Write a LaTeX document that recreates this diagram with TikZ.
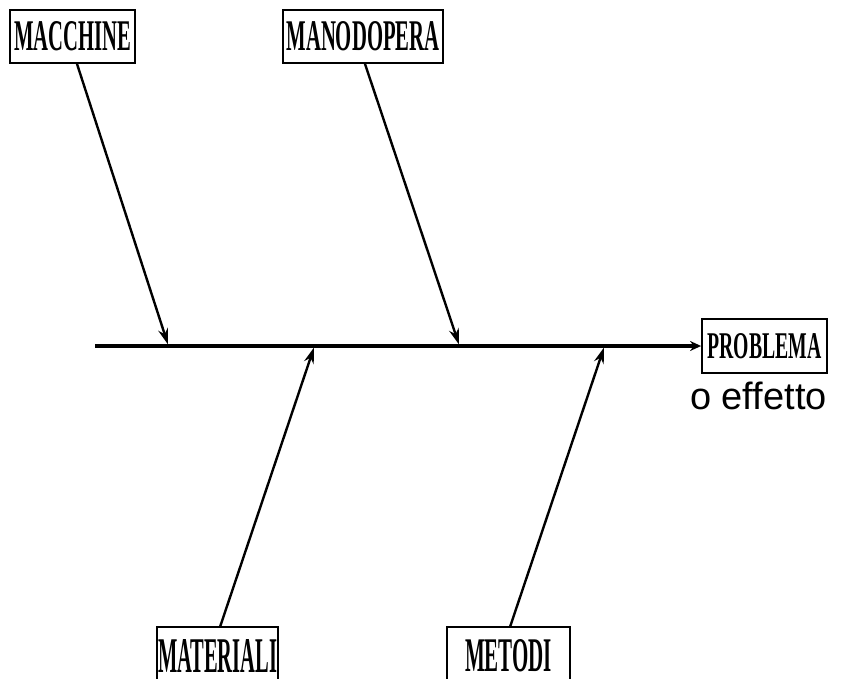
\documentclass[tikz,border=0pt]{standalone}
\usepackage{fontspec}
\setmainfont{Liberation Serif}
\newfontfamily\effsans{Liberation Sans}
\usetikzlibrary{arrows.meta}
\tikzset{
  box/.style={draw, line width=1.8pt, inner sep=0pt, anchor=center},
  frame/.style={line width=1.8pt},
  spine/.style={line width=3.2pt, -{Stealth[length=11pt,width=10pt]}},
  branch/.style={line width=2.4pt, -{Stealth[length=16pt,width=10pt]}},
}
\newcommand{\lbl}[3]{\resizebox{#1}{#2}{\fontsize{40}{40}\selectfont\bfseries #3}}
\begin{document}
\begin{tikzpicture}[x=1pt,y=-1pt]
\clip (0,0) rectangle (843,679);
\fill[white] (0,0) rectangle (843,679);
% boxes
\node[box, minimum width=125pt, minimum height=53pt] (mac) at (72.5,36.5) {\raisebox{-4pt}{\lbl{117pt}{29pt}{MACCHINE}}};
\node[box, minimum width=160pt, minimum height=53pt] (man) at (363,36.5) {\raisebox{-4pt}{\lbl{153pt}{29pt}{MANODOPERA}}};
\node[box, minimum width=125pt, minimum height=54pt] (prob) at (764.5,346) {\lbl{114pt}{25pt}{PROBLEMA}};
\node[inner sep=0pt] (mat) at (217.5,656) {\lbl{119pt}{33pt}{MATERIALI}};
\node[inner sep=0pt] (met) at (508.5,656) {\lbl{87pt}{32pt}{METODI}};
\draw[frame] ([xshift=-60.5pt,yshift=-40pt]mat.center) -- ([xshift=-60.5pt,yshift=29pt]mat.center) -- ([xshift=60.5pt,yshift=29pt]mat.center) -- ([xshift=60.5pt,yshift=-40pt]mat.center);
\draw[frame] ([xshift=-61.5pt,yshift=-40pt]met.center) -- ([xshift=-61.5pt,yshift=29pt]met.center) -- ([xshift=61.5pt,yshift=29pt]met.center) -- ([xshift=61.5pt,yshift=-40pt]met.center);
\node[anchor=base west, inner sep=0pt] (eff) at (690,409) {\effsans\fontsize{38}{38}\selectfont o effetto};
% spine
\coordinate (tail) at (95,346);
\coordinate (j1) at (168,344.5);
\coordinate (j2) at (459,344.5);
\coordinate (j3) at (314,347.5);
\coordinate (j4) at (604,347.5);
\coordinate (s3) at (220,627);
\coordinate (s4) at (510,627);
\draw[spine] (tail) -- (prob.west);
% branches
\draw[branch] ([xshift=4.5pt]mac.south) -- (j1);
\draw[branch] ([xshift=2pt]man.south) -- (j2);
\draw[branch] (s3) -- (j3);
\draw[branch] (s4) -- (j4);
\end{tikzpicture}
\end{document}
